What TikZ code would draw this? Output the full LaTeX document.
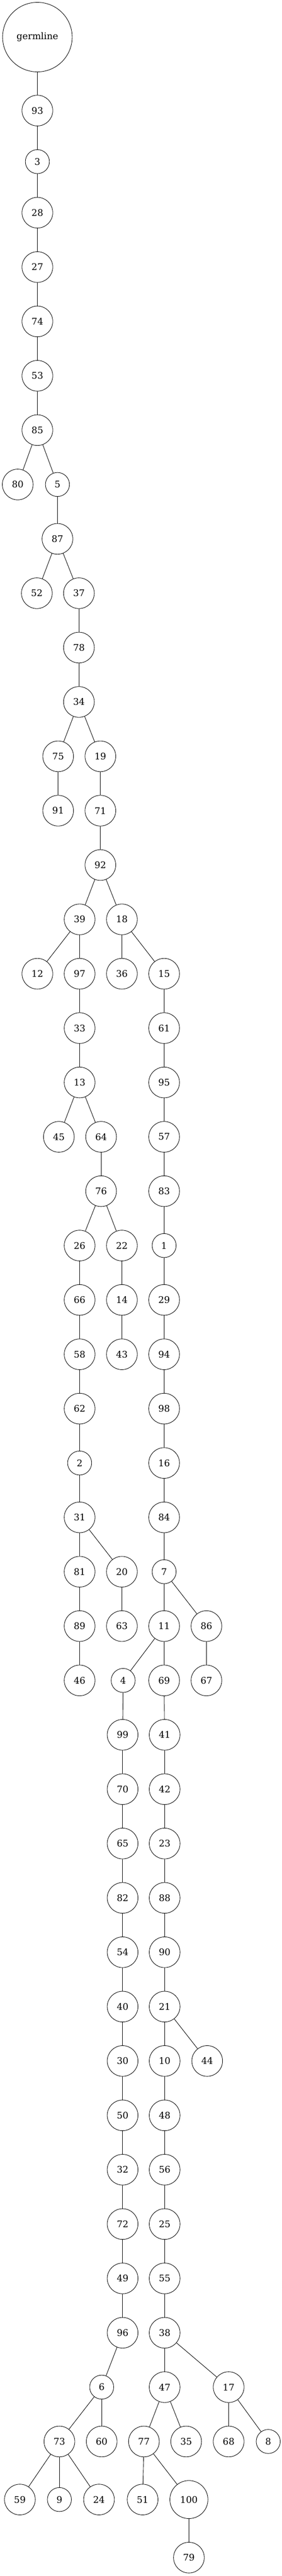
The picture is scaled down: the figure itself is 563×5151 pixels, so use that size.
\documentclass[tikz,border=0pt]{standalone}
\usepackage{fontspec}
\setmainfont{DejaVu Serif}
\begin{document}
\begin{tikzpicture}[x=1pt,y=-1pt,
  every node/.style={draw=black,line width=0.9pt,circle,inner sep=0pt,font=\fontsize{18.3pt}{20pt}\selectfont},
  n/.style={minimum size=61.4pt},
  s/.style={minimum size=48pt},
  t/.style={minimum size=76pt},
  g/.style={minimum size=139pt},
  e/.style={line width=0.9pt,draw=black}]
\useasboundingbox (0,0) rectangle (563,5151);
% rank 0-7
\node[g] (germline) at (74.7,74.2) {germline};
\node[n] (93) at (74.7,221.1) {93};
\node[s] (3) at (74.7,323.2) {3};
\node[n] (28) at (74.7,425.3) {28};
\node[n] (27) at (74.7,534.0) {27};
\node[n] (74) at (74.7,642.7) {74};
\node[n] (53) at (74.7,751.4) {53};
\node[n] (85) at (74.7,860.1) {85};
% rank 8
\node[n] (80) at (35.4,968.8) {80};
\node[s] (5) at (114.8,968.8) {5};
% rank 9
\node[n] (87) at (114.8,1077.5) {87};
% rank 10
\node[n] (52) at (73.6,1186.2) {52};
\node[n] (37) at (157.7,1186.2) {37};
\node[n] (78) at (157.7,1294.9) {78};
\node[n] (34) at (157.7,1403.6) {34};
% rank 13
\node[n] (75) at (116.2,1512.3) {75};
\node[n] (19) at (200.6,1512.3) {19};
\node[n] (91) at (116.2,1621.0) {91};
\node[n] (71) at (200.6,1621.0) {71};
\node[n] (92) at (200.6,1729.7) {92};
% rank 16
\node[n] (39) at (159.1,1838.4) {39};
\node[n] (18) at (243.6,1838.4) {18};
% rank 17
\node[n] (12) at (74.7,1947.1) {12};
\node[n] (97) at (159.1,1947.1) {97};
\node[n] (36) at (243.6,1947.1) {36};
\node[n] (15) at (328,1947.1) {15};
% rank 18-19
\node[n] (33) at (159.1,2055.8) {33};
\node[n] (61) at (328,2055.8) {61};
\node[n] (13) at (159.1,2164.5) {13};
\node[n] (95) at (328,2164.5) {95};
% rank 20
\node[n] (45) at (117.6,2273.2) {45};
\node[n] (64) at (202,2273.2) {64};
\node[n] (57) at (328,2273.2) {57};
% rank 21
\node[n] (76) at (202,2381.9) {76};
\node[n] (83) at (328,2381.9) {83};
% rank 22
\node[n] (26) at (159.1,2490.6) {26};
\node[n] (22) at (243.6,2490.6) {22};
\node[s] (1) at (328,2490.6) {1};
% rank 23
\node[n] (66) at (159.1,2599.3) {66};
\node[n] (14) at (243.6,2599.3) {14};
\node[n] (29) at (328,2599.3) {29};
% rank 24
\node[n] (58) at (159.1,2708.0) {58};
\node[n] (43) at (243.6,2708.0) {43};
\node[n] (94) at (328,2708.0) {94};
% rank 25
\node[n] (62) at (159.1,2816.7) {62};
\node[n] (98) at (328,2816.7) {98};
% rank 26
\node[s] (2) at (159.1,2925.4) {2};
\node[n] (16) at (328,2925.4) {16};
% rank 27
\node[n] (31) at (159.1,3034.1) {31};
\node[n] (84) at (328,3034.1) {84};
% rank 28
\node[n] (81) at (159.1,3142.8) {81};
\node[n] (20) at (243.6,3142.8) {20};
\node[s] (7) at (328,3142.8) {7};
% rank 29
\node[n] (89) at (159.1,3251.5) {89};
\node[n] (63) at (243.6,3251.5) {63};
\node[n] (11) at (328,3251.5) {11};
\node[n] (86) at (412.5,3251.5) {86};
% rank 30
\node[n] (46) at (159.1,3360.2) {46};
\node[s] (4) at (246.1,3360.2) {4};
\node[n] (69) at (328,3360.2) {69};
\node[n] (67) at (412.5,3360.2) {67};
% rank 31-36
\node[n] (99) at (245,3468.9) {99};
\node[n] (41) at (329,3468.9) {41};
\node[n] (70) at (245,3577.6) {70};
\node[n] (42) at (329,3577.6) {42};
\node[n] (65) at (245,3686.3) {65};
\node[n] (23) at (329,3686.3) {23};
\node[n] (82) at (245,3795.0) {82};
\node[n] (88) at (329,3795.0) {88};
\node[n] (54) at (245,3903.7) {54};
\node[n] (90) at (329,3903.7) {90};
\node[n] (40) at (245,4012.4) {40};
\node[n] (21) at (329,4012.4) {21};
% rank 37
\node[n] (30) at (245,4121.1) {30};
\node[n] (10) at (329,4121.1) {10};
\node[n] (44) at (414,4121.1) {44};
% rank 38-42
\node[n] (50) at (245,4229.8) {50};
\node[n] (48) at (329,4229.8) {48};
\node[n] (32) at (245,4338.5) {32};
\node[n] (56) at (329,4338.5) {56};
\node[n] (72) at (245,4447.2) {72};
\node[n] (25) at (329,4447.2) {25};
\node[n] (49) at (245,4555.9) {49};
\node[n] (55) at (329,4555.9) {55};
\node[n] (96) at (245,4664.6) {96};
\node[n] (38) at (329,4664.6) {38};
% rank 43
\node[s] (6) at (203.2,4773.3) {6};
\node[n] (47) at (329,4773.3) {47};
\node[n] (17) at (456.9,4773.3) {17};
% rank 44
\node[n] (73) at (118.7,4882.0) {73};
\node[n] (60) at (203.2,4882.0) {60};
\node[n] (77) at (287.6,4882.0) {77};
\node[n] (35) at (372,4882.0) {35};
\node[n] (68) at (456.9,4882.0) {68};
\node[s] (8) at (536,4882.0) {8};
% rank 45
\node[n] (59) at (39.7,4998.1) {59};
\node[s] (9) at (118.7,4998.1) {9};
\node[n] (24) at (197.8,4998.1) {24};
\node[n] (51) at (285,4998.1) {51};
\node[t] (100) at (377.5,4998.1) {100};
% rank 46
\node[n] (79) at (377.5,5114.2) {79};
% edges
\foreach \a/\b in {germline/93,93/3,3/28,28/27,27/74,74/53,53/85,85/80,85/5,5/87,
  87/52,87/37,37/78,78/34,34/75,34/19,75/91,19/71,71/92,92/39,92/18,39/12,39/97,
  18/36,18/15,97/33,33/13,13/45,13/64,15/61,61/95,95/57,64/76,57/83,76/26,76/22,
  83/1,26/66,22/14,1/29,66/58,14/43,29/94,58/62,94/98,62/2,98/16,2/31,16/84,
  31/81,31/20,84/7,81/89,20/63,7/11,7/86,89/46,11/4,11/69,86/67,4/99,69/41,
  99/70,41/42,70/65,42/23,65/82,23/88,82/54,88/90,54/40,90/21,40/30,21/10,21/44,
  30/50,10/48,50/32,48/56,32/72,56/25,72/49,25/55,49/96,55/38,96/6,38/47,38/17,
  6/73,6/60,47/77,47/35,17/68,17/8,73/59,73/9,73/24,77/51,77/100,100/79}
  \draw[e] (\a) -- (\b);
\end{tikzpicture}
\end{document}
